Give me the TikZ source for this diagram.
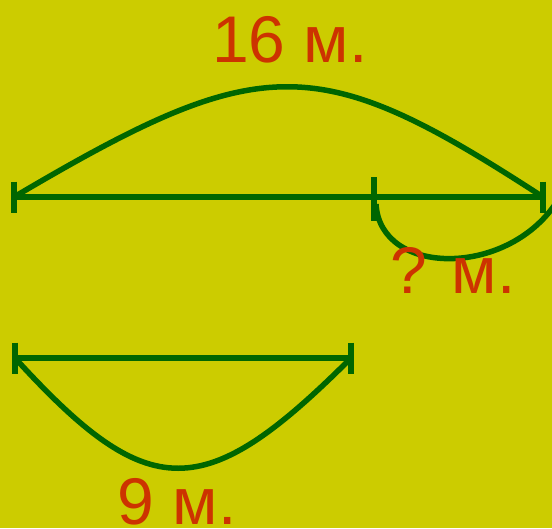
\documentclass[tikz,border=0pt]{standalone}
\usepackage{fontspec}
\setmainfont{Liberation Sans}
\definecolor{bgyellow}{RGB}{204,204,0}
\definecolor{lngreen}{RGB}{0,102,0}
\definecolor{txtred}{RGB}{204,51,0}
\begin{document}
\begin{tikzpicture}[x=1pt, y=-1pt,
  seg/.style={draw=lngreen,line width=6pt},
  arc/.style={draw=lngreen,line width=5.5pt},
  lbl/.style={text=txtred,font=\fontsize{66}{66}\selectfont,anchor=base,inner sep=0pt}]
\fill[bgyellow] (0,0) rectangle (552,528);
\useasboundingbox (0,0) rectangle (552,528);
% upper segment
\coordinate (L1) at (14,197);
\coordinate (M1) at (374,197);
\coordinate (R1) at (543,197);
\draw[seg] (L1) -- (R1);
\draw[seg] ([yshift=15.5pt]L1) -- ([yshift=-15.5pt]L1);
\draw[seg] ([yshift=20pt]M1) -- ([yshift=-24pt]M1);
\draw[seg] ([yshift=15.5pt]R1) -- ([yshift=-15.5pt]R1);
\draw[arc] (L1) .. controls (263,50) and (317,50) .. (R1);
\coordinate (Q1) at (376,204);
\coordinate (Q2) at (556,203);
\draw[arc] (Q1) .. controls (380,276) and (506,278) .. (Q2);
\node[lbl] (len16) at (290,62) {16 м.};
\node[lbl] (lenq) at (453,293) {? м.};
% lower segment
\coordinate (L2) at (15,358);
\coordinate (R2) at (351,358);
\draw[seg] (L2) -- (R2);
\draw[seg] ([yshift=15.5pt]L2) -- ([yshift=-15.5pt]L2);
\draw[seg] ([yshift=15.5pt]R2) -- ([yshift=-15.5pt]R2);
\draw[arc] (L2) .. controls (149,505) and (204,505) .. (R2);
\node[lbl] (len9) at (177,524) {9 м.};
\end{tikzpicture}
\end{document}
